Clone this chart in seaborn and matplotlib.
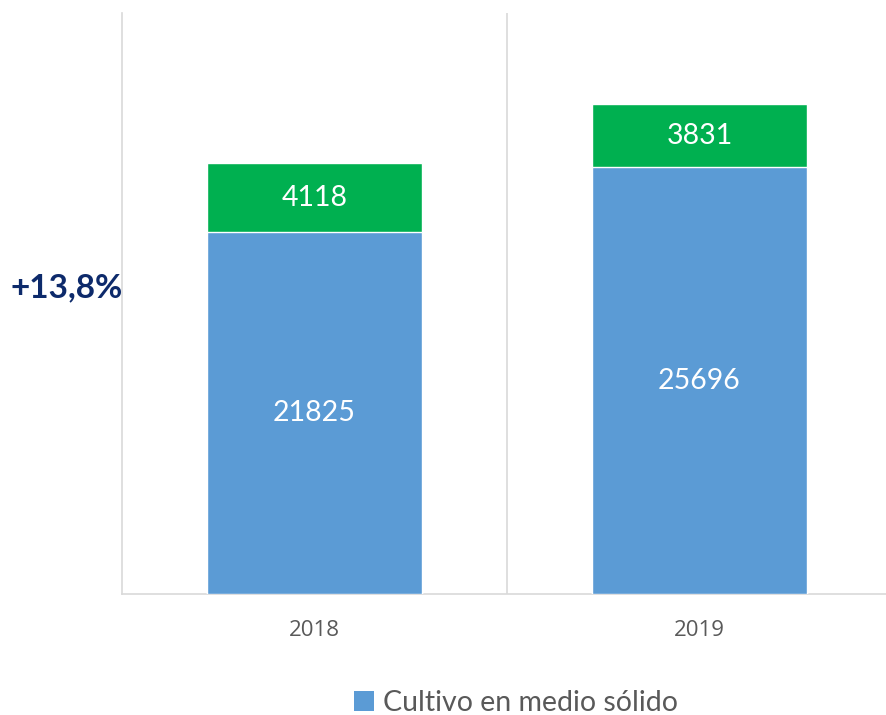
import matplotlib
matplotlib.use("Agg")
import matplotlib.pyplot as plt
from matplotlib.patches import Patch
import pandas as pd
import seaborn as sns

# data
years = ['2018', '2019']
solido = [21825, 25696]
otro = [4118, 3831]
change_label = '+13,8%'

blue = '#5B9BD5'
green = '#00B050'
grid_col = '#D9D9D9'

df = pd.DataFrame({'year': years, 'solido': solido, 'otro': otro})
df['total'] = df['solido'] + df['otro']

sns.set_theme(style='white')
plt.rcParams['font.family'] = ['Lato', 'DejaVu Sans']

fig = plt.figure(figsize=(8.87, 7.15), dpi=100)
ax = fig.add_axes([122 / 887, 121 / 715, 770 / 887, 581 / 715])

# stacked bars: total (green) behind, solid culture (blue) in front
sns.barplot(data=df, x='year', y='total', color=green, width=0.557,
            saturation=1, ax=ax, zorder=3)
sns.barplot(data=df, x='year', y='solido', color=blue, width=0.557,
            saturation=1, ax=ax, zorder=4)

ax.set_ylim(0, 35000)
ax.set_xlim(-0.5, 1.5)
ax.set_xlabel('')
ax.set_ylabel('')
ax.set_yticks([])
ax.tick_params(axis='x', length=0, pad=19, labelsize=16, labelcolor='#595959')
for lab in ax.get_xticklabels():
    lab.set_fontfamily(['Open Sans', 'DejaVu Sans'])

for side in ['top', 'right']:
    ax.spines[side].set_visible(False)
for side in ['left', 'bottom']:
    ax.spines[side].set_color(grid_col)
    ax.spines[side].set_linewidth(1.2)
ax.axvline(0.5, color=grid_col, lw=1.2, zorder=1)
ax.axvline(1.5, color=grid_col, lw=1.2, zorder=1)

# value labels
for i, row in df.iterrows():
    ax.text(i, row['solido'] / 2, f"{row['solido']}", ha='center', va='center',
            color='white', fontsize=20.5, zorder=5)
    ax.text(i, row['solido'] + row['otro'] / 2, f"{row['otro']}", ha='center',
            va='center', color='white', fontsize=20.5, zorder=5)

fig.text(67 / 887, 1 - 288 / 715, change_label, ha='center', va='center',
         fontsize=24, fontweight='bold', color='#0D2A6B',
         family=['Lato', 'DejaVu Sans'])

handles = [Patch(facecolor=blue, edgecolor='none', label='Cultivo en medio sólido')]
fig.legend(handles=handles, loc='center', bbox_to_anchor=(516 / 887, 1 - 703 / 715),
           frameon=False, fontsize=20.5, handlelength=0.7, handleheight=0.7,
           handletextpad=0.3, labelcolor='#595959')

fig.savefig('out.png', dpi=100)
